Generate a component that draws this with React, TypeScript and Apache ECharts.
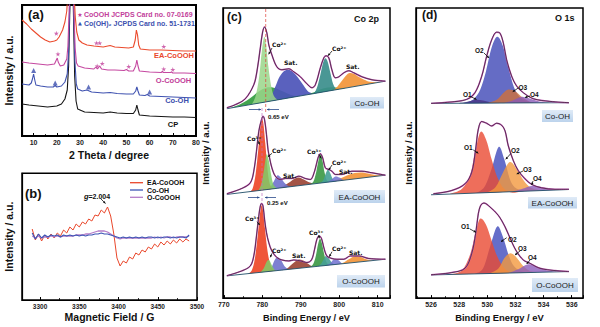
import React, { useEffect, useRef } from 'react';
import * as echarts from 'echarts';

const FONT = '"Liberation Sans", Arial, Helvetica, sans-serif';

// ---------------- (a) XRD [2theta, intensity a.u.] ----------------
const xrdCP = [[5,32],[8,31],[12,30],[16,29],[20,30],[22,32],[23.5,37],[24.5,46],[25.1,70],[25.6,125],[26.4,210],[27.2,120],[27.7,60],[28.3,35],[29,27],[32,24],[36,23.5],[40,23],[43,24],[46,23],[50,22.5],[53,22.5],[54,26],[54.5,31],[55,26],[55.6,21],[60,20],[65,19.5],[70,19],[75,19],[80,18.5]];
const xrdCoOH = [[5,52],[8,51],[9,53],[9.5,57],[10,62],[10.5,56],[11,51],[13,50],[16,49],[18.5,49],[19.3,50.5],[20,49],[22,50],[23.5,54],[24.5,62],[25.1,85],[25.5,125],[26.4,210],[27.3,125],[27.8,75],[28.4,52],[29,47],[31,45],[33,46],[35,44],[40,43],[43,43.5],[46,42.5],[50,42],[53,42],[54,45],[54.5,49],[55,45],[55.6,41],[58,40.5],[59,41.5],[60,40],[65,39.5],[70,39],[75,38.5],[80,38]];
const xrdOCoOOH = [[5,74],[8,73],[12,72],[16,71],[19,72],[19.8,76],[20.2,78],[20.6,74],[21.5,70],[23,71],[24.3,77],[24.8,90],[25.3,125],[26.4,210],[27.4,125],[27.9,88],[28.5,73],[29.2,70],[32,68],[36,67],[36.8,69],[37.5,67],[38.5,70],[39.3,67],[42,66],[45,66],[49,65.5],[50,66.5],[51,65],[53,65],[54,70],[54.5,76],[55,70],[55.6,65],[60,64],[65,63.5],[65.5,64.5],[66,63.5],[69,63.5],[69.5,64],[70,63],[75,63],[80,62.5]];
const xrdEACoOOH = [[5,116],[7,112],[9,107],[11,103],[13,99],[15,96],[17,94],[19,95],[20,96],[21,99],[22.5,106],[23.5,114],[24.3,125],[24.7,140],[26.4,220],[27.6,135],[28,118],[28.6,104],[29.5,96],[31,93],[33,91],[36,90],[38,89.5],[40,89],[43,90.5],[45,89],[48,88.5],[51,88],[53,89],[53.8,96],[54.3,106],[54.8,101],[55.3,91],[56,87],[60,86],[65,86],[70,85.5],[75,85],[80,85]];
const xrdStarsEA = [[19.8,102.7],[37.1,93],[38.5,93],[66.1,89.5]];
const xrdStarsO = [[20.5,82],[37.4,70],[39.6,72.5],[51,69.5],[66.1,67],[70,66.5]];
const xrdTriCoOH = [[10,65.5],[19.3,53],[33.7,49],[60,44]];

// ---------------- (b) EPR ----------------
const eprField = [3290,3294,3298,3302,3306,3310,3314,3318,3322,3326,3330,3334,3338,3342,3346,3350,3354,3358,3362,3366,3370,3374,3378,3382,3386,3390,3394,3398,3402,3406,3410,3414,3418,3422,3426,3430,3434,3438,3442,3446,3450,3454,3458,3462,3466,3470,3474,3478,3482,3486,3490];
const eprEA = [71,60,66,59,65,61,66,62,67,64,70,67,73,70,76,73,78,76,81,79,85,84,90,87,93,84,66,42,34,39,37,43,41,47,45,50,48,53,51,56,53,58,55,59,56,60,57,61,58,61,59];
const eprCoOH = [67,61,66,62,65,63,65,64,65,63,65,64,65,64,65,64,65,64,65,65,66,66,67,66,66,65,64,63,62,63,62,63,62,63,62,63,62,63,63,62,63,62,63,63,62,63,62,63,63,62,65];
const eprOCoOOH = [64,62,64,62,63,63,64,63,64,63,64,64,64,64,65,65,65,66,66,67,68,69,69,69,68,66,64,62,61,62,62,62,62,62,62,62,62,62,62,63,62,63,62,63,63,62,63,63,63,63,64];

// ---------------- (c) Co 2p XPS [eV, intensity] ----------------
const cOH_base = [[770.8,190],[812,217.6]];
const cOH_env = [[770.8,191],[773,194],[775.6,200],[777.8,214],[778.6,227],[779.5,251],[780.1,267],[780.6,272],[781.2,266],[781.7,254],[782.5,244],[783.8,232],[785.1,229],[786.9,230],[788.2,227],[789.9,222],[791.6,215],[792.9,211],[793.8,214],[795.1,231],[796,241],[796.6,243],[797.3,241],[798.1,229],[799,221],[799.9,222],[801.2,226],[802.5,228],[803.8,226],[805.9,222],[808.5,219],[812,217.6]];
const cOH_dkGreen = [[771,190.1],[773,192.5],[775,196],[777,201],[779,207],[781,211],[783,211],[785,208],[787,204.5],[789,202.5],[791,203.6]];
const cOH_sat1 = [[780,196.2],[781.5,199],[782.5,204],[783.5,213],[784.5,222],[785.8,228],[787,229],[788.2,226],[789.5,220],[790.8,213],[792,207],[793.5,205.2]];
const cOH_co2a = [[777.3,194.4],[778.3,203],[779.2,222],[779.9,248],[780.5,262],[781,254],[781.6,232],[782.3,213],[783,203],[784,198.9]];
const cOH_dkGreen2 = [[792,204.2],[794,207.5],[796,210.5],[798,211.5],[800,211],[802,210.9]];
const cOH_co2b = [[792.5,204.4],[793.5,206],[794.3,212],[795.1,224],[795.8,236],[796.4,240.5],[797,237],[797.7,226],[798.4,215],[799.2,210],[800,209.6]];
const cOH_sat2 = [[798.5,208.7],[799.5,212],[800.5,217],[801.5,222],[802.5,225.5],[803.8,225],[805,222],[806.5,219],[808,217],[810,216.6],[812,217.6]];

const cEA_base = [[770.8,104],[812,123.3]];
const cEA_env = [[770.8,104.7],[774.7,110],[776.9,115.7],[777.8,127.3],[778.5,147.3],[779.1,167.3],[779.8,179],[780.2,182.3],[780.6,179],[781.1,164],[781.5,149],[781.9,140.7],[782.5,130.7],[783.4,122.3],[784.7,119],[786,120],[787.7,120],[789.5,122.3],[791.2,120],[792.5,119],[793.6,127.3],[794.5,140.7],[795.1,144.7],[795.7,140.7],[796.4,130.7],[797.3,129],[798.1,127.3],[799,124],[800.7,124],[803.3,127.3],[805.9,127.3],[808.5,125.7],[812,123.3]];
const cEA_co3a = [[776.5,106.6],[777.5,110],[778.3,125],[779,150],[779.5,172],[779.9,180],[780.3,175],[780.8,155],[781.3,132],[781.8,117],[782.5,111],[783.5,109.9]];
const cEA_co2a = [[779,107.8],[779.8,115],[780.5,130],[781.1,144],[781.7,138],[782.3,124],[782.9,114],[783.8,110.2]];
const cEA_blue = [[781,108.8],[782,111],[783,117],[783.9,123],[784.8,121],[785.7,116],[786.8,112.5],[788,112.1]];
const cEA_sat1 = [[784,110.2],[785.5,112.5],[787,116],[788.5,120],[789.5,121],[790.8,119],[792,116.5],[793.5,114.7]];
const cEA_co3b = [[792.3,114.3],[793.3,117],[794,126],[794.6,138],[795.1,144],[795.6,139],[796.2,126],[796.8,118],[797.6,116.6]];
const cEA_co2b = [[794.8,115.2],[795.8,118],[796.5,125],[797.1,129],[797.7,125],[798.4,119],[799.2,117.3]];
const cEA_blue2 = [[797,116.3],[798,119],[799,122],[800,121],[801.2,118.3]];
const cEA_sat2 = [[798,116.8],[800,119.5],[802,123],[804,125.5],[806,126],[808,124.5],[810,123.2],[812,123.3]];

const cO_base = [[770.8,22.3],[812,39]];
const cO_env = [[770.8,22.5],[774.7,27.3],[776.9,32.3],[777.8,42.3],[778.5,62.3],[779.1,82.3],[779.5,92.3],[779.8,95],[780.2,92.3],[780.6,79],[781.1,65.7],[781.7,55.7],[782.5,47.3],[783.8,40.7],[785.1,38.3],[786.9,37.3],[788.2,38.3],[789.9,37.3],[791.6,35.7],[792.8,38.3],[793.6,49],[794.2,59],[794.8,62.3],[795.4,59.7],[796,50.7],[796.8,42.3],[798.1,39.7],[799.4,39],[801.2,39],[802.9,42.3],[805.1,42.3],[807.7,39.7],[812,39]];
const cO_co3a = [[776.3,24.5],[777.3,28],[778.1,40],[778.8,62],[779.4,84],[779.8,93],[780.2,88],[780.7,70],[781.2,52],[781.8,38],[782.6,30],[783.6,27.4]];
const cO_co2a = [[779.5,25.8],[780.4,30],[781.2,37],[781.8,38],[782.5,33],[783.3,28],[784.2,27.7]];
const cO_blue = [[781.3,26.6],[782.3,30],[783.2,38],[784,41],[784.9,38],[785.8,32],[786.8,28.8]];
const cO_sat1 = [[785,28],[786.5,30],[788,35],[789.3,38.5],[790.5,38],[791.7,35],[793,32],[794.3,31.9]];
const cO_co3b = [[792.2,31.1],[793.2,34],[793.9,42],[794.5,54],[795,59.5],[795.5,55],[796.1,44],[796.7,36],[797.5,33.1]];
const cO_co2b = [[794.5,32],[795.4,35],[796.1,40],[796.7,43],[797.3,40],[798,36],[798.9,33.7]];
const cO_blue2 = [[796.5,32.8],[797.7,35],[798.6,39],[799.6,38.5],[800.8,34.4]];
const cO_sat2 = [[799,33.6],[801,35.5],[802.5,39],[804,42],[805.5,41.5],[807,39],[809,38],[811,38.6]];

// ---------------- (d) O 1s XPS ----------------
const dOH_base = [[526,196],[535.8,196.7]];
const dOH_env = [[526,196],[527.35,197.3],[528.53,200],[529.12,206.7],[529.6,223.3],[529.95,243.3],[530.31,260],[530.66,267.7],[530.9,266.7],[531.14,256.7],[531.37,240],[531.73,223.3],[532.09,213.3],[532.56,206.7],[533.27,200.7],[534.45,198],[535.8,196.7]];
const dOH_O1 = [[527.8,196.1],[528.5,197.5],[529.1,199.5],[529.7,199],[530.3,197],[531,196.4]];
const dOH_O2 = [[528.3,196.2],[529,200],[529.5,210],[529.9,228],[530.3,252],[530.7,263],[531.1,254],[531.5,232],[531.9,212],[532.4,201],[533,197.5],[533.6,196.5]];
const dOH_O3 = [[530,196.3],[530.7,200],[531.1,206],[531.5,210],[532,208],[532.5,202],[533.1,197.5],[533.7,196.5]];
const dOH_O4 = [[531.2,196.4],[531.8,199],[532.4,202.5],[533,201],[533.7,198],[534.5,196.6]];

const dEA_base = [[526,104],[535.8,109.3]];
const dEA_env = [[526.16,105],[527.47,108.3],[528.41,115],[528.89,126.7],[529.17,150],[529.36,170],[529.6,177.7],[529.95,176],[530.31,173.3],[530.66,176],[531.02,174],[531.26,168.3],[531.49,153.3],[531.85,138.3],[532.2,128.3],[532.68,120],[533.15,114.5],[533.86,111],[534.81,109.5],[535.8,109.5]];
const dEA_O1 = [[527.3,104.7],[528.2,110],[528.8,125],[529.1,145],[529.5,167],[529.9,160],[530.3,140],[530.7,122],[531.2,110],[531.8,106],[532.5,107.5]];
const dEA_O2 = [[529.2,105.7],[529.8,112],[530.3,130],[530.8,152],[531.2,140],[531.6,120],[532,111],[532.6,107.6]];
const dEA_O3 = [[530,106.2],[530.6,112],[531.1,126],[531.6,137],[532.1,130],[532.6,118],[533.1,111],[533.8,108.2]];
const dEA_O4 = [[531.8,107.1],[532.5,110],[533.2,113],[533.9,111.5],[534.6,109.5],[535.3,109]];

const dO_base = [[526,23.3],[535.8,26.7]];
const dO_env = [[526,23.5],[527.47,25.7],[528.41,30],[528.89,45],[529.17,65],[529.36,85],[529.53,93.3],[529.76,95.7],[530.19,91.7],[530.78,83.3],[531.26,71.7],[531.73,56.7],[532.09,46.7],[532.56,38.3],[533.03,35],[533.74,30],[534.81,27.7],[535.8,26.7]];
const dO_O1 = [[527.3,23.8],[528.2,28],[528.8,45],[529.2,68],[529.5,80],[529.9,74],[530.3,58],[530.7,42],[531.2,30],[531.8,25.5],[532.5,25.6]];
const dO_O2 = [[529.1,24.4],[529.7,30],[530.2,52],[530.7,72],[531.1,62],[531.5,44],[531.9,32],[532.5,26.5],[533,25.8]];
const dO_O3 = [[530.2,24.8],[530.8,30],[531.2,40],[531.6,45],[532,42],[532.5,33],[533,27.5],[533.6,25.9]];
const dO_O4 = [[531.5,25.2],[532.2,29],[532.9,34],[533.5,32],[534.2,28],[535,26.4]];

// ---------------- colours ----------------
const RED = '#e9472b', MAG = '#c2409a', BLUE = '#3c4fae', PURP = '#b57cc8';
const ENV = '#c55cb8';
const STAR = 'path://M50,0 L61,35 L98,35 L68,57 L79,91 L50,70 L21,91 L32,57 L2,35 L39,35 Z';

function closedSmooth(p: number[][]) {
  const n = p.length;
  let d = `M${p[0][0]},${p[0][1]}`;
  for (let i = 0; i < n - 1; i++) {
    const p0 = p[Math.max(i - 1, 0)], p1 = p[i], p2 = p[i + 1], p3 = p[Math.min(i + 2, n - 1)];
    const c1x = p1[0] + (p2[0] - p0[0]) / 6, c1y = p1[1] + (p2[1] - p0[1]) / 6;
    const c2x = p2[0] - (p3[0] - p1[0]) / 6, c2y = p2[1] - (p3[1] - p1[1]) / 6;
    d += ` C${c1x},${c1y} ${c2x},${c2y} ${p2[0]},${p2[1]}`;
  }
  return d + ' Z';
}

const area = (axis: number, pts: number[][], color: string, opacity = 0.88) => ({
  type: 'custom', xAxisIndex: axis, yAxisIndex: axis, silent: true, clip: true,
  data: [pts[0]],
  renderItem: (_p: any, api: any) => ({
    type: 'path',
    shape: { pathData: closedSmooth(pts.map((q) => api.coord(q))) },
    style: { fill: color, opacity, stroke: null },
  }),
});

const line = (axis: number, data: any[], color: string, width = 1, extra: any = {}) => ({
  type: 'line', xAxisIndex: axis, yAxisIndex: axis, data, symbol: 'none', silent: true,
  lineStyle: { color, width }, itemStyle: { color }, ...extra,
});

const spectrum = (axis: number, base: number[][], env: number[][]) => [
  line(axis, base, '#1e4e68', 0.9),
  line(axis, env, ENV, 1.5, { smooth: 0.35 }),
  line(axis, env, '#111', 0.6, { smooth: 0.35 }),
];

const txt = (text: string, x: number, y: number, o: any = {}) => ({
  type: 'text', x, y, silent: true, z: 100,
  style: {
    text, fill: o.color || '#111', fontSize: o.size || 7, fontWeight: o.weight || 'bold',
    fontFamily: o.family || FONT, fontStyle: 'normal', align: o.align || 'left', verticalAlign: 'middle',
    rich: o.rich,
  },
});

const arrow = (x1: number, y1: number, x2: number, y2: number, color = '#111') => {
  const a = Math.atan2(y2 - y1, x2 - x1), L = 2.6, w = 0.5;
  return [
    { type: 'line', silent: true, z: 100, shape: { x1, y1, x2, y2 }, style: { stroke: color, lineWidth: 0.8 } },
    {
      type: 'polygon', silent: true, z: 100,
      shape: { points: [[x2, y2], [x2 - L * Math.cos(a - w), y2 - L * Math.sin(a - w)], [x2 - L * Math.cos(a + w), y2 - L * Math.sin(a + w)]] },
      style: { fill: color },
    },
  ];
};

const box = (text: string, x1: number, y1: number, x2: number, y2: number) => [
  {
    type: 'rect', silent: true, z: 90, shape: { x: x1, y: y1, width: x2 - x1, height: y2 - y1 },
    style: { fill: new echarts.graphic.LinearGradient(0, 0, 0, 1, [{ offset: 0, color: '#e0ebf7' }, { offset: 1, color: '#bcd3ec' }]) },
  },
  txt(text, (x1 + x2) / 2, (y1 + y2) / 2 + 0.5, { align: 'center', size: 8, weight: 'normal', color: '#1b1b1b' }),
];

const dash = (x: number, y1: number, y2: number, color: string) => ({
  type: 'line', silent: true, z: 100, shape: { x1: x, y1, x2: x, y2 },
  style: { stroke: color, lineWidth: 0.7, lineDash: [3, 2] },
});

function buildOption() {
  const xCommon = (min: number, max: number, split: number, name: string, gap: number, nameSize: number, labelSize: number, margin: number) => ({
    type: 'value', min, max, splitNumber: split, name, nameLocation: 'middle', nameGap: gap,
    nameTextStyle: { fontFamily: FONT, fontWeight: 'bold', fontSize: nameSize, color: '#111' },
    axisLine: { show: true, lineStyle: { color: '#000', width: 1.2 } },
    axisTick: { show: true, inside: true, length: 3, lineStyle: { color: '#000', width: 1 } },
    minorTick: { show: true, splitNumber: 2, length: 2, lineStyle: { color: '#000', width: 0.8 } },
    axisLabel: {
      fontFamily: FONT, fontWeight: 'bold', fontSize: labelSize, color: '#222', margin,
      showMinLabel: false, showMaxLabel: true, formatter: (v: number) => String(v),
    },
    splitLine: { show: false },
  });
  const yCommon = (max: number, gap: number, size: number) => ({
    type: 'value', min: 0, max, name: 'Intensity / a.u.', nameLocation: 'middle', nameGap: gap,
    nameTextStyle: { fontFamily: FONT, fontWeight: 'bold', fontSize: size, color: '#111' },
    axisLine: { show: true, lineStyle: { color: '#000', width: 1.2 } },
    axisTick: { show: false }, axisLabel: { show: false }, splitLine: { show: false },
  });

  const xc = xCommon(769.8, 813.2, 4, 'Binding Energy / eV', 12, 9.2, 7, 3);
  (xc.axisLabel as any).showMaxLabel = false;
  const xd = xCommon(524.93, 536.8, 6, 'Binding Energy / eV', 11, 9.4, 7, 3);
  (xd.axisLabel as any).showMaxLabel = false;

  const series: any[] = [
    // (a)
    line(0, xrdCP, '#151515', 1.1),
    line(0, xrdCoOH, '#3f52b0', 1.1),
    line(0, xrdOCoOOH, '#c548a0', 1.1),
    line(0, xrdEACoOOH, '#eb4a2c', 1.1),
    { type: 'scatter', xAxisIndex: 0, yAxisIndex: 0, data: xrdStarsEA, symbol: STAR, symbolSize: 5, itemStyle: { color: MAG }, silent: true, z: 5 },
    { type: 'scatter', xAxisIndex: 0, yAxisIndex: 0, data: xrdStarsO, symbol: STAR, symbolSize: 5, itemStyle: { color: MAG }, silent: true, z: 5 },
    { type: 'scatter', xAxisIndex: 0, yAxisIndex: 0, data: xrdTriCoOH, symbol: 'triangle', symbolSize: 5, itemStyle: { color: BLUE }, silent: true, z: 5 },
    // (b)
    line(1, eprField.map((f, i) => [f, eprEA[i]]), RED, 1),
    line(1, eprField.map((f, i) => [f, eprOCoOOH[i]]), PURP, 1.3),
    line(1, eprField.map((f, i) => [f, eprCoOH[i]]), '#3d55b5', 1.1),
    // (c) Co-OH
    area(2, cOH_dkGreen, '#2f9a3c', 0.9),
    area(2, cOH_sat1, '#4c54b8', 0.92),
    area(2, cOH_co2a, '#9ad68a', 0.85),
    area(2, cOH_dkGreen2, '#2f9a3c', 0.9),
    area(2, cOH_co2b, '#3b8e8c', 0.92),
    area(2, cOH_sat2, '#f2953a', 0.92),
    ...spectrum(2, cOH_base, cOH_env),
    // (c) EA-CoOOH
    area(2, cEA_sat2, '#f2953a', 0.92),
    area(2, cEA_sat1, '#9c4536', 0.92),
    area(2, cEA_blue, '#6f72cc', 0.9),
    area(2, cEA_co3a, '#ee4628', 0.92),
    area(2, cEA_co2a, '#7fcc68', 0.85),
    area(2, cEA_co3b, '#3f9a48', 0.92),
    area(2, cEA_co2b, '#46a096', 0.9),
    area(2, cEA_blue2, '#7070d0', 0.85),
    ...spectrum(2, cEA_base, cEA_env),
    // (c) O-CoOOH
    area(2, cO_sat2, '#f2953a', 0.92),
    area(2, cO_sat1, '#9c4536', 0.92),
    area(2, cO_blue, '#6f72cc', 0.9),
    area(2, cO_co3a, '#ee4628', 0.92),
    area(2, cO_co2a, '#7fcc68', 0.85),
    area(2, cO_co3b, '#3f9a48', 0.92),
    area(2, cO_co2b, '#46a096', 0.9),
    area(2, cO_blue2, '#7070d0', 0.85),
    ...spectrum(2, cO_base, cO_env),
    // (d) Co-OH
    area(3, dOH_O2, '#5860c0', 0.92),
    area(3, dOH_O1, '#4a3a8a', 0.9),
    area(3, dOH_O3, '#d0703a', 0.8),
    area(3, dOH_O4, '#8a5ab8', 0.8),
    ...spectrum(3, dOH_base, dOH_env),
    // (d) EA-CoOOH
    area(3, dEA_O2, '#5862c4', 0.92),
    area(3, dEA_O1, '#ea4a32', 0.8),
    area(3, dEA_O3, '#f2983e', 0.8),
    area(3, dEA_O4, '#8c5cbc', 0.8),
    ...spectrum(3, dEA_base, dEA_env),
    // (d) O-CoOOH
    area(3, dO_O2, '#5862c4', 0.92),
    area(3, dO_O1, '#ea4a32', 0.8),
    area(3, dO_O3, '#f2983e', 0.8),
    area(3, dO_O4, '#8c5cbc', 0.8),
    ...spectrum(3, dO_base, dO_env),
  ];

  const co = (t: string, x: number, y: number) => txt(t, x, y, { size: 6, family: '"DejaVu Sans", ' + FONT });

  const graphic: any[] = [
    // (a)
    txt('(a)', 28, 14, { size: 13 }),
    txt('★', 80, 14, { color: MAG, size: 6, align: 'center', family: '"DejaVu Sans"' }),
    txt('CoOOH JCPDS Card no. 07-0169', 84, 14, { color: MAG, size: 7 }),
    txt('▲', 80, 23, { color: BLUE, size: 5, align: 'center', family: '"DejaVu Sans"' }),
    txt('Co(OH)₂ JCPDS Card no. 51-1731', 84, 23, { color: BLUE, size: 7, family: FONT + ', "DejaVu Sans"' }),
    txt('EA-CoOOH', 174, 55, { color: RED, align: 'center', size: 7.5 }),
    txt('O-CoOOH', 173.5, 80, { color: MAG, align: 'center', size: 7.5 }),
    txt('Co-OH', 177, 100, { color: BLUE, align: 'center', size: 7.5 }),
    txt('CP', 173, 124, { align: 'center', size: 7.5 }),
    // (b)
    txt('(b)', 25, 193, { size: 13 }),
    txt('{i|g}=2.004', 97, 196, { align: 'center', size: 7, rich: { i: { fontStyle: 'italic', fontWeight: 'bold', fontSize: 7.5, fontFamily: FONT } } }),
    ...arrow(101, 199, 105.5, 203.5),
    { type: 'line', silent: true, z: 100, shape: { x1: 130, y1: 182.7, x2: 143, y2: 182.7 }, style: { stroke: RED, lineWidth: 1.3 } },
    { type: 'line', silent: true, z: 100, shape: { x1: 130, y1: 190, x2: 143, y2: 190 }, style: { stroke: '#3d55b5', lineWidth: 1.3 } },
    { type: 'line', silent: true, z: 100, shape: { x1: 130, y1: 197.3, x2: 143, y2: 197.3 }, style: { stroke: PURP, lineWidth: 1.3 } },
    txt('EA-CoOOH', 147, 182.7, { size: 7 }),
    txt('Co-OH', 147, 190, { size: 7 }),
    txt('O-CoOOH', 147, 197.3, { size: 7 }),
    // (c)
    txt('(c)', 227, 17, { size: 12 }),
    txt('Co 2p', 354, 18.5, { size: 9 }),
    dash(265.7, 9, 112, '#e0403a'),
    dash(262, 108, 204, '#c070c0'),
    ...arrow(249, 109.5, 261, 109.5, '#2a4a8a'),
    ...arrow(279, 109.5, 267, 109.5, '#2a4a8a'),
    txt('0.65 eV', 268, 116.5, { size: 6 }),
    ...arrow(248, 197.5, 259.5, 197.5, '#2a4a8a'),
    ...arrow(276, 197.5, 265, 197.5, '#2a4a8a'),
    txt('0.25 eV', 267, 202.5, { size: 6 }),
    co('Co²⁺', 272, 44), ...arrow(272, 48, 268.7, 54.3),
    co('Sat.', 284, 62),
    co('Co²⁺', 332, 48), ...arrow(332, 51, 328, 55.7),
    co('Sat.', 346, 66),
    ...box('Co-OH', 350, 97, 384, 108.5),
    co('Co³⁺', 247, 138), ...arrow(258, 140.5, 259.5, 144.5),
    co('Co²⁺', 272, 150), ...arrow(272, 153.3, 268, 156.7),
    co('Sat.', 283, 175.7),
    co('Co³⁺', 307, 151.5), ...arrow(318.7, 154.3, 321.3, 158.3),
    co('Co²⁺', 332, 162.5), ...arrow(332, 165, 328.7, 170),
    co('Sat.', 339, 171.5),
    ...box('EA-CoOOH', 334, 190, 385, 203),
    co('Co³⁺', 245, 218), ...arrow(257, 221.7, 259.7, 225),
    co('Co²⁺', 272, 250), ...arrow(272, 253.3, 270.3, 257.3),
    co('Sat.', 292, 255.7),
    co('Co³⁺', 309, 232), ...arrow(318.7, 235, 319.3, 238.3),
    co('Co²⁺', 332, 248), ...arrow(332, 251.7, 329.3, 256.7),
    co('Sat.', 349, 252.7),
    ...box('O-CoOOH', 337, 275, 385, 287.5),
    // (d)
    txt('(d)', 422, 15, { size: 12 }),
    txt('O 1s', 555, 17.5, { size: 9 }),
    txt('O2', 475, 50, { size: 6.5 }), ...arrow(484, 53, 489, 58),
    txt('O1', 463, 94.3, { size: 6.5 }), ...arrow(470.5, 96.5, 476.5, 99.5),
    txt('O3', 518.5, 87.3, { size: 6.5 }), ...arrow(518.3, 88, 512.7, 91.7),
    txt('O4', 530, 94.3, { size: 6.5 }), ...arrow(530, 96, 525, 97.5),
    ...box('Co-OH', 542, 110, 573, 122),
    txt('O1', 464, 147.7, { size: 6.5 }), ...arrow(473.3, 150, 478.3, 153.3),
    txt('O2', 511, 150.7, { size: 6.5 }), ...arrow(511, 153.3, 505.7, 159.3),
    txt('O3', 523, 169.3, { size: 6.5 }), ...arrow(523, 171, 516.7, 174),
    txt('O4', 533, 178.7, { size: 6.5 }), ...arrow(533, 181, 531.7, 185),
    ...box('EA-CoOOH', 528, 197, 577, 208.5),
    txt('O1', 461, 226.7, { size: 6.5 }), ...arrow(470, 229, 476, 232.3),
    txt('O2', 508, 239.3, { size: 6.5 }), ...arrow(506.7, 237.7, 501, 241.7),
    txt('O3', 518, 248.3, { size: 6.5 }), ...arrow(520, 251, 515, 255),
    txt('O4', 528, 257.3, { size: 6.5 }), ...arrow(530, 260, 526.7, 264),
    ...box('O-CoOOH', 532, 278, 578, 292),
  ];

  return {
    animation: false,
    backgroundColor: '#fff',
    grid: [
      { left: 22, top: 5, width: 174, height: 131, show: true, borderColor: '#000', borderWidth: 2, backgroundColor: 'transparent' },
      { left: 22, top: 173.3, width: 175, height: 126.7, show: true, borderColor: '#000', borderWidth: 1.5, backgroundColor: 'transparent' },
      { left: 223, top: 8, width: 167, height: 291, show: true, borderColor: '#000', borderWidth: 1.5, backgroundColor: 'transparent' },
      { left: 416, top: 8, width: 167, height: 292, show: true, borderColor: '#000', borderWidth: 1.5, backgroundColor: 'transparent' },
    ],
    xAxis: [
      { ...xCommon(5, 80, 7, '2 Theta / degree', 13, 10.5, 7, 3), gridIndex: 0 },
      { ...xCommon(3277, 3500, 4, 'Magnetic Field / G', 11, 10.5, 6.5, 2.5), gridIndex: 1 },
      { ...xc, gridIndex: 2 },
      { ...xd, gridIndex: 3 },
    ],
    yAxis: [
      { ...yCommon(131, 8, 10.5), gridIndex: 0 },
      { ...yCommon(126.7, 8, 10.5), gridIndex: 1 },
      { ...yCommon(291, 13, 9.5), gridIndex: 2 },
      { ...yCommon(292, 3, 9.5), gridIndex: 3 },
    ],
    series,
    graphic: { elements: graphic },
  };
}

export default function App() {
  const ref = useRef<HTMLDivElement>(null);
  useEffect(() => {
    if (!ref.current) return;
    const chart = echarts.init(ref.current, undefined, { renderer: 'svg' });
    chart.setOption(buildOption() as any);
    return () => chart.dispose();
  }, []);
  return <div ref={ref} style={{ position: 'fixed', left: 0, top: 0, width: 600, height: 327, background: '#fff' }} />;
}
